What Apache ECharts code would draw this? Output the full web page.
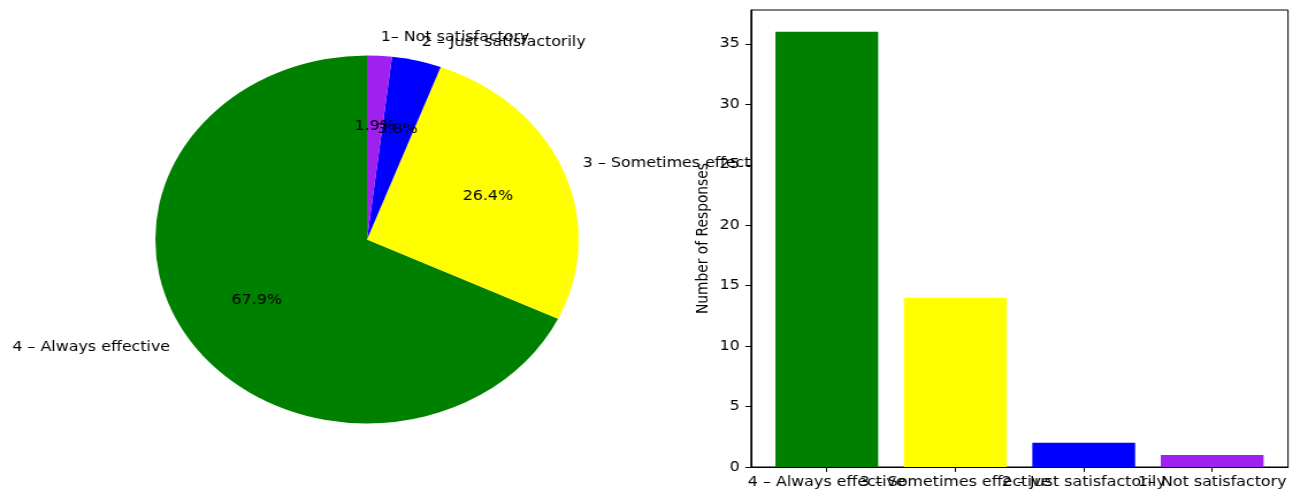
<!DOCTYPE html>
<html>
<head>
<meta charset="utf-8">
<script src="https://cdn.jsdelivr.net/npm/echarts@6/dist/echarts.min.js"></script>
<style>
  html, body { margin: 0; padding: 0; background: #fff; overflow: hidden; }
  #chart { width: 1124px; height: 495px; transform: scaleX(1.1504); transform-origin: 0 0; }
</style>
</head>
<body>
<div id="chart"></div>
<script>
// Data
const categories = ['4 – Always effective', '3 – Sometimes effective', '2 – Just satisfactorily', '1– Not satisfactory'];
const responses = [36, 14, 2, 1];
const colors = ['#008000', '#ffff00', '#0000ff', '#a020f0'];
const yTicks = [0, 5, 10, 15, 20, 25, 30, 35];

const FONT = 'DejaVu Sans';
const FS = 13.8;
const R = 184;

const pieData = categories.map((c, i) => ({ name: c, value: responses[i], itemStyle: { color: colors[i] } }));
const barData = responses.map((v, i) => ({ value: [i, v], itemStyle: { color: colors[i] } }));
const xTickValues = categories.map((c, i) => i);
// labels are split over two coincident axes so that overlapping labels are all drawn
const xLabelsEven = xTickValues.filter(i => i % 2 === 0);
const xLabelsOdd = xTickValues.filter(i => i % 2 === 1);

const xLabelStyle = {
  formatter: v => categories[Math.round(v)] || '',
  fontFamily: FONT, fontSize: FS, color: '#000', margin: 8,
  hideOverlap: false, showMinLabel: true, showMaxLabel: true
};

const chart = echarts.init(document.getElementById('chart'), null, { renderer: 'canvas' });
chart.setOption({
  animation: false,
  backgroundColor: '#fff',
  textStyle: { fontFamily: FONT, color: '#000' },
  grid: {
    z: 10,
    left: 652.8, right: 4.4, top: 10, bottom: 28,
    show: true, borderColor: '#000', borderWidth: 1, backgroundColor: '#fff'
  },
  xAxis: [
    {
      type: 'value',
      position: 'bottom',
      z: 20,
      min: -0.59, max: 3.59,
      splitLine: { show: false },
      axisLine: { show: true, onZero: false, lineStyle: { color: '#000', width: 1 } },
      axisTick: { show: true, customValues: xTickValues, length: 4.9, lineStyle: { color: '#000' } },
      axisLabel: Object.assign({ customValues: xLabelsEven }, xLabelStyle)
    },
    {
      type: 'value',
      position: 'bottom',
      offset: 0,
      z: 21,
      min: -0.59, max: 3.59,
      splitLine: { show: false },
      axisLine: { show: false, onZero: false },
      axisTick: { show: false },
      axisLabel: Object.assign({ customValues: xLabelsOdd }, xLabelStyle)
    }
  ],
  yAxis: {
    type: 'value',
    z: 20,
    min: 0, max: 37.8, interval: 5,
    name: 'Number of Responses', nameLocation: 'middle', nameRotate: 90, nameGap: 34,
    nameTextStyle: { fontFamily: FONT, fontSize: FS, color: '#000' },
    splitLine: { show: false },
    axisLine: { show: true, onZero: false, lineStyle: { color: '#000', width: 1 } },
    axisTick: { show: true, length: 4.9, lineStyle: { color: '#000' }, customValues: yTicks },
    axisLabel: {
      customValues: yTicks, fontFamily: FONT, fontSize: FS, color: '#000', margin: 9.7,
      showMinLabel: true, showMaxLabel: true, hideOverlap: false
    }
  },
  series: [
    {
      type: 'pie',
      z: 1,
      center: [319, 239.5],
      radius: [0, R],
      startAngle: 90,
      clockwise: false,
      avoidLabelOverlap: false,
      minShowLabelAngle: 0,
      silent: true,
      data: pieData,
      label: {
        show: true, position: 'outside', formatter: '{b}',
        fontFamily: FONT, fontSize: FS, color: '#000', distanceToLabelLine: 0
      },
      labelLine: { show: false, length: R * 0.1, length2: 0 },
      labelLayout: { hideOverlap: false },
      emphasis: { disabled: true }
    },
    {
      type: 'pie',
      z: 2,
      center: [319, 239.5],
      radius: [R * 0.4, R * 0.8],
      startAngle: 90,
      clockwise: false,
      avoidLabelOverlap: false,
      minShowLabelAngle: 0,
      silent: true,
      percentPrecision: 1,
      data: pieData.map(d => ({ name: d.name, value: d.value, itemStyle: { color: 'rgba(0,0,0,0)' } })),
      label: { show: true, position: 'inside', formatter: '{d}%', fontFamily: FONT, fontSize: FS, color: '#000' },
      labelLine: { show: false },
      labelLayout: { hideOverlap: false },
      emphasis: { disabled: true }
    },
    {
      type: 'bar',
      z: 15,
      xAxisIndex: 0,
      data: barData,
      barWidth: '80%'
    }
  ]
});
</script>
</body>
</html>
